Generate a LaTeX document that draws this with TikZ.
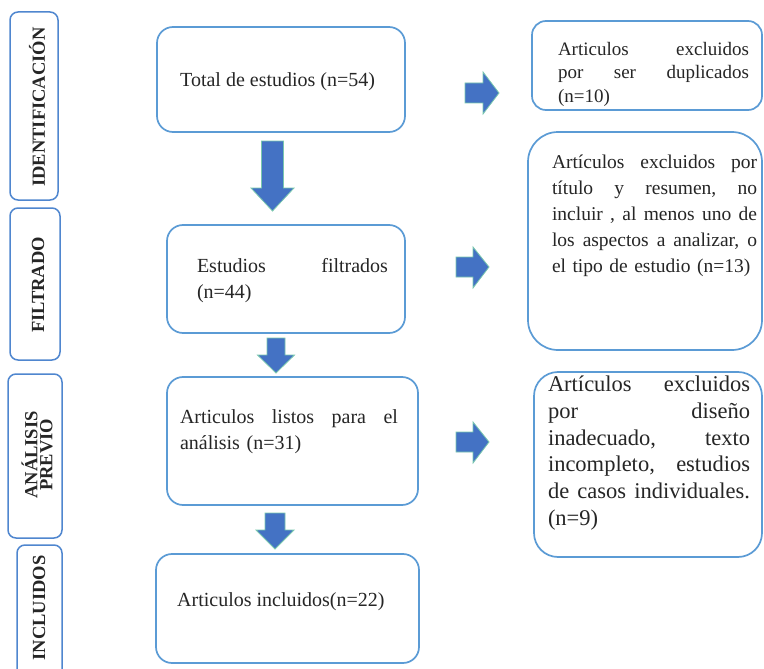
\documentclass[tikz,border=0pt]{standalone}
\usepackage{fontspec}
\setmainfont{Liberation Serif}
\definecolor{boxblue}{HTML}{5B9BD5}
\definecolor{lblblue}{HTML}{4F86CF}
\definecolor{arrowblue}{HTML}{4472C4}
\definecolor{arrowedge}{HTML}{79C7AE}
\definecolor{txtc}{HTML}{262626}
\tikzset{
  box/.style={draw=boxblue, line width=1.7pt, rounded corners=16pt, inner sep=0pt},
  lblbox/.style={draw=lblblue, line width=1.5pt, rounded corners=8pt, inner sep=0pt},
  bigarrow/.style={fill=arrowblue, draw=arrowedge, line width=0.8pt},
  maintxt/.style={font=\fontsize{20}{26}\selectfont, text=txtc, align=left, inner sep=0pt},
  lbltxt/.style={font=\bfseries\fontsize{18.5}{15}\selectfont, text=txtc, align=center, inner sep=0pt, rotate=90},
}
\begin{document}
\begin{tikzpicture}[x=1pt,y=-1pt]
\useasboundingbox (0,0) rectangle (764,669);
\fill[white] (0,0) rectangle (764,669);

% left stage labels
\node[lblbox, minimum width=48pt, minimum height=188pt] (lid) at (34,106) {};
\node[lbltxt] (lidT) at (37,107) {IDENTIFICACIÓN};
\node[lblbox, minimum width=50pt, minimum height=152pt] (lfi) at (35,284) {};
\node[lbltxt] (lfiT) at (38,285) {FILTRADO};
\node[lblbox, minimum width=54pt, minimum height=164pt] (lan) at (35,456) {};
\node[lbltxt] (lanT) at (37,455) {ANÁLISIS\\PREVIO};
\node[lblbox, minimum width=45pt, minimum height=150pt] (lin) at (39.5,620) {};
\node[lbltxt] (linT) at (39,608) {INCLUIDOS};

% main column boxes
\node[box, minimum width=248pt, minimum height=105pt] (total) at (281,79.5) {};
\node[maintxt, anchor=west] (totalT) at (180,82) {Total de estudios (n=54)};

\node[box, minimum width=238pt, minimum height=108pt] (filt) at (286,279) {};
\node[maintxt, text width=191pt] (filtT) at (292.5,281) {Estudios\hfill filtrados\\(n=44)};

\node[box, minimum width=251pt, minimum height=128pt] (anal) at (292.5,441) {};
\node[maintxt, text width=218pt] (analT) at (289,432) {Articulos\hfill listos\hfill para\hfill el\\análisis (n=31)};

\node[box, minimum width=263pt, minimum height=109pt] (incl) at (287.5,608.5) {};
\node[maintxt, anchor=west] (inclT) at (177,602) {Articulos incluidos(n=22)};

% right column boxes
\node[box, rounded corners=14pt, minimum width=230pt, minimum height=89pt] (r1) at (647,65.5) {};
\node[maintxt, font=\fontsize{19}{23.5}\selectfont, text width=191pt] (r1T) at (653.5,74)
  {Articulos\hfill excluidos\\por\hfill ser\hfill duplicados\\(n=10)};

\node[box, rounded corners=30pt, minimum width=234pt, minimum height=218pt] (r2) at (645,241) {};
\node[maintxt, font=\fontsize{19.5}{26}\selectfont, text width=205pt] (r2T) at (654.5,216)
  {Artículos\hfill excluidos\hfill por\\título\hfill y\hfill resumen,\hfill no\\incluir\hfill ,\hfill al\hfill menos\hfill uno\hfill de\\los\hfill aspectos\hfill a\hfill analizar,\hfill o\\el tipo de estudio (n=13)};

\node[box, rounded corners=24pt, minimum width=228pt, minimum height=185pt] (r3) at (648,464.5) {};
\node[maintxt, font=\fontsize{22.5}{26.8}\selectfont, text width=202pt] (r3T) at (649,453)
  {Artículos\hfill excluidos\\por\hfill diseño\\inadecuado,\hfill texto\\incompleto,\hfill estudios\\de\hfill casos\hfill individuales.\\(n=9)};

% down arrows
\path[bigarrow] (261.5,141) -- (283.5,141) -- (283.5,188) -- (294,188) -- (272.5,211) -- (251,188) -- (261.5,188) -- cycle;
\path[bigarrow] (267,338) -- (285,338) -- (285,355) -- (294.5,355) -- (276,373) -- (257.5,355) -- (267,355) -- cycle;
\path[bigarrow] (265,513) -- (285,513) -- (285,530) -- (294,530) -- (275,549) -- (256,530) -- (265,530) -- cycle;

% right arrows
\path[bigarrow] (465,83) -- (483,83) -- (483,72) -- (499,93) -- (483,114) -- (483,103) -- (465,103) -- cycle;
\path[bigarrow] (456,257) -- (473,257) -- (473,247) -- (489,267) -- (473,288) -- (473,277) -- (456,277) -- cycle;
\path[bigarrow] (456,432) -- (473,432) -- (473,422) -- (489,442) -- (473,463) -- (473,452) -- (456,452) -- cycle;
\end{tikzpicture}
\end{document}
